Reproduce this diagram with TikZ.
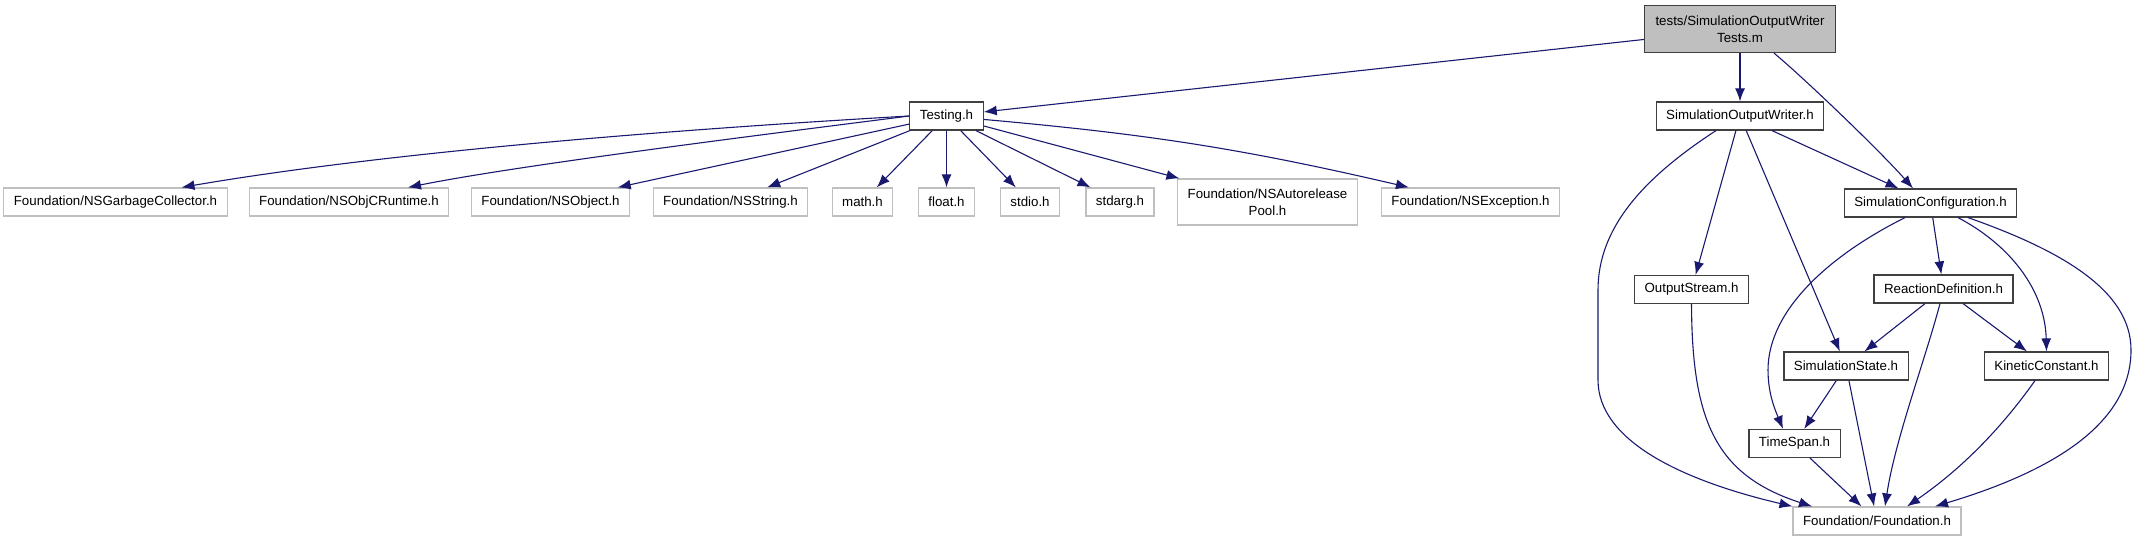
\documentclass[tikz,border=0pt]{standalone}
\usepackage{fontspec}
\setmainfont{Liberation Sans}
\usetikzlibrary{arrows.meta}
\definecolor{edgeblue}{HTML}{191970}
\definecolor{boxgray}{HTML}{BFBFBF}

\begin{document}
\begin{tikzpicture}[
    x=1pt, y=-1pt,
    font=\fontsize{13.3}{16.5}\selectfont,
    normal/.style={
        draw=black!75,
        line width=1.2pt,
        align=center,
        inner xsep=10pt,
        inner ysep=0pt,
        minimum height=28pt,
    },
    external/.style={
        normal,
        draw=boxgray,
    },
    current/.style={
        normal,
        fill=boxgray,
        minimum width=191pt,
        minimum height=47pt,
    },
    includeedge/.style={draw=edgeblue, line width=1.1pt, -{Latex[length=13pt,width=10pt]}}
]

\useasboundingbox (0,0) rectangle (2135,541);

\node[current] (root) at (1740,29) {tests/SimulationOutputWriter\\Tests.m};
\node[normal] (testing) at (946.5,116) {Testing.h};
\node[normal] (writer) at (1740,116) {SimulationOutputWriter.h};

\node[external] (gc) at (115.5,202) {Foundation/NSGarbageCollector.h};
\node[external] (objc) at (349,202) {Foundation/NSObjCRuntime.h};
\node[external] (nsobject) at (550.5,202) {Foundation/NSObject.h};
\node[external] (nsstring) at (730.5,202) {Foundation/NSString.h};
\node[external] (mathh) at (862.5,202) {math.h};
\node[external] (floath) at (946.5,202) {float.h};
\node[external] (stdioh) at (1030,202) {stdio.h};
\node[external] (stdargh) at (1120,202) {stdarg.h};
\node[external, minimum height=46pt] (pool) at (1267.5,202) {Foundation/NSAutorelease\\Pool.h};
\node[external] (exception) at (1470.5,202) {Foundation/NSException.h};

\node[normal] (config) at (1930.5,203) {SimulationConfiguration.h};
\node[normal] (stream) at (1691.5,289.5) {OutputStream.h};
\node[normal] (reaction) at (1943.5,289) {ReactionDefinition.h};
\node[normal] (state) at (1846,366) {SimulationState.h};
\node[normal] (kinetic) at (2046.5,366) {KineticConstant.h};
\node[normal] (span) at (1794.5,443.5) {TimeSpan.h};
\node[external] (foundation) at (1877,521) {Foundation/Foundation.h};

\draw[includeedge] (root) -- (testing);
\draw[includeedge] (root) -- (writer);
\draw[includeedge] ([xshift=34pt]root.south) .. controls (1805,79) and (1880,151) .. ([xshift=-17.5pt]config.north);

\draw[includeedge] (testing.west) .. controls (700,128) and (400,150) .. ([xshift=66pt]gc.north);
\draw[includeedge] (testing.west) .. controls (760,135) and (520,165) .. ([xshift=59pt]objc.north);
\draw[includeedge] (testing) -- (nsobject);
\draw[includeedge] (testing) -- (nsstring);
\draw[includeedge] (testing) -- (mathh);
\draw[includeedge] (testing) -- (floath);
\draw[includeedge] (testing) -- (stdioh);
\draw[includeedge] (testing) -- (stdargh);
\draw[includeedge] (testing) -- (pool);
\draw[includeedge] (testing) to[bend left=4] (exception);

\draw[includeedge] ([xshift=-24pt]writer.south) .. controls (1640,180) and (1598,230) .. (1598,290) -- (1598,380) .. controls (1598,440) and (1680,480) .. (foundation.north west);
\draw[includeedge] (writer) -- (stream);
\draw[includeedge] (writer) -- (state);
\draw[includeedge] (writer) -- (config);

\draw[includeedge] ([xshift=-25.5pt]config.south) .. controls (1830,255) and (1768,310) .. (1768,370) .. controls (1768,395) and (1776,412) .. ([xshift=-11.5pt]span.north);
\draw[includeedge] (config) -- (reaction);
\draw[includeedge] ([xshift=27.5pt]config.south) .. controls (2010,245) and (2045,290) .. (kinetic.north);
\draw[includeedge] ([xshift=37.5pt]config.south) .. controls (2060,250) and (2131,290) .. (2131,350) .. controls (2131,425) and (2050,472) .. ([xshift=58pt]foundation.north);

\draw[includeedge] (reaction) -- (state);
\draw[includeedge] (reaction) -- (kinetic);
\draw[includeedge] ([xshift=-3.5pt]reaction.south) .. controls (1925,360) and (1895,440) .. ([xshift=8pt]foundation.north);

\draw[includeedge] (state) -- (span);
\draw[includeedge] (state) -- (foundation);
\draw[includeedge] (stream.south) .. controls (1692,420) and (1715,475) .. ([xshift=-65pt]foundation.north);
\draw[includeedge] (span) -- (foundation);
\draw[includeedge] ([xshift=-11.5pt]kinetic.south) .. controls (2000,430) and (1960,470) .. ([xshift=30pt]foundation.north);

\end{tikzpicture}
\end{document}
